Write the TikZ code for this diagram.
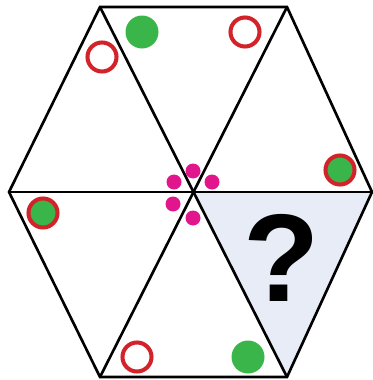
\documentclass[tikz,border=0pt]{standalone}
\usepackage{fontspec}
\setmainfont{Liberation Sans}
\usetikzlibrary{calc}

\definecolor{dotgreen}{RGB}{57,181,74}
\definecolor{ringred}{RGB}{210,35,42}
\definecolor{dotpink}{RGB}{226,22,140}
\definecolor{paleblue}{RGB}{232,236,246}

\begin{document}
\begin{tikzpicture}[x=0.2mm, y=-0.2mm,
    hexline/.style={line width=1.5pt, line join=miter},
    greendot/.style={fill=dotgreen},
    ring/.style={draw=ringred, line width=2.3pt},
    pinkdot/.style={fill=dotpink}]

    \useasboundingbox (0,0) rectangle (373,380);

    % HEXAGON CORNERS
    \coordinate (C) at (193,192);
    \coordinate (TL) at (100,7);
    \coordinate (TR) at (287,7);
    \coordinate (R) at (372,192);
    \coordinate (BR) at (287,377);
    \coordinate (BL) at (100,377);
    \coordinate (L) at (9,192);

    % MISSING TRIANGLE
    \fill[paleblue] (C) -- (R) -- (BR) -- cycle;

    % OUTLINE AND SPOKES
    \draw[hexline] (TL) -- (TR) -- (R) -- (BR) -- (BL) -- (L) -- cycle;
    \draw[hexline] (TL) -- (BR);
    \draw[hexline] (TR) -- (BL);
    \draw[hexline] (L) -- (R);

    % OUTER MARKS
    \fill[greendot] (142,32) circle (16.5);
    \draw[ring] (245,32) circle (14.5);
    \draw[ring] (102,57) circle (14.5);
    \draw[ring, fill=dotgreen] (340,170) circle (14.5);
    \draw[ring, fill=dotgreen] (43,213) circle (14.5);
    \draw[ring] (137,357) circle (14.5);
    \fill[greendot] (248,357) circle (16.5);

    % INNER DOTS
    \fill[pinkdot] (193,171) circle (7.5);
    \fill[pinkdot] (174,182) circle (7.5);
    \fill[pinkdot] (212,182) circle (7.5);
    \fill[pinkdot] (173,204) circle (7.5);
    \fill[pinkdot] (193,218) circle (7.5);

    % QUESTION
    \node[inner sep=0pt, font=\fontsize{71}{71}\selectfont\bfseries] (q) at (282,258) {?};

\end{tikzpicture}
\end{document}
